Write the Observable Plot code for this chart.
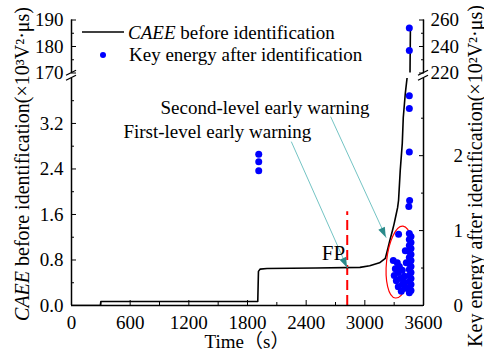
<!DOCTYPE html>
<html>
<head>
<meta charset="utf-8">
<script src="https://cdn.jsdelivr.net/npm/d3@7"></script>
<script src="https://cdn.jsdelivr.net/npm/@observablehq/plot@0.6"></script>
<style>
  body { margin: 0; background: #fff; }
  #chart { position: relative; width: 484px; height: 354px; overflow: hidden; background: #fff; }
  #chart svg { position: absolute; left: 0; top: 0; }
</style>
</head>
<body>
<div id="chart"></div>
<script>
// CAEE before identification (×10³ V²·μs) against time (s)
const caeeTime  = [0, 295, 300, 1905, 1912, 1930, 2000, 2500, 2950, 3050, 3150, 3210, 3235, 3255, 3280, 3300, 3320, 3335, 3345, 3362, 3383, 3393, 3414, 3432, 3462, 3466];
const caeeValue = [0, 0, 0.07, 0.07, 0.60, 0.64, 0.65, 0.66, 0.67, 0.70, 0.75, 0.83, 1.00, 1.14, 1.30, 1.44, 1.60, 1.72, 1.85, 2.37, 2.85, 3.30, 3.73, 4.0, 170, 186];

// Key energy after identification (×10² V²·μs)
const keyTime   = [1915, 1915, 1915,
                   3455, 3455, 3455, 3458, 3450, 3345,
                   3455, 3455,
                   3291, 3332, 3312, 3353, 3301, 3342, 3383, 3322, 3363, 3403, 3342, 3383, 3414, 3373, 3403, 3424, 3414,
                   3455, 3455, 3455, 3455, 3455, 3455, 3455, 3455, 3455, 3455, 3455,
                   3472, 3472, 3472, 3472, 3472, 3472, 3472, 3472, 3472, 3472];
const keyEnergy = [2.02, 1.92, 1.80,
                   2.80, 2.63, 2.05, 1.40, 1.32, 0.95,
                   254, 237,
                   0.60, 0.57, 0.49, 0.52, 0.40, 0.44, 0.47, 0.33, 0.36, 0.39, 0.25, 0.28, 0.23, 0.19, 0.31, 0.57, 0.73,
                   0.96, 0.88, 0.80, 0.72, 0.64, 0.56, 0.48, 0.40, 0.32, 0.24, 0.17,
                   0.92, 0.84, 0.76, 0.68, 0.60, 0.52, 0.44, 0.36, 0.28, 0.20];

// Axis ticks (broken y axes: lower and upper segments)
const timeTicks      = [0, 600, 1200, 1800, 2400, 3000, 3600];
const timeMinor      = [300, 900, 1500, 2100, 2700, 3300];
const caeeLowDomain  = [0, 3.99];
const caeeLowTicks   = [0, 0.8, 1.6, 2.4, 3.2];
const caeeLowMinor   = [0.4, 1.2, 2.0, 2.8, 3.6];
const caeeHighDomain = [170, 190];
const caeeHighTicks  = [170, 180, 190];
const caeeHighMinor  = [175, 185];
const keyLowDomain   = [0, 3.03];
const keyLowTicks    = [0, 1, 2];
const keyLowMinor    = [0.5, 1.5, 2.5];
const keyHighDomain  = [220, 260];
const keyHighTicks   = [220, 240, 260];
const keyHighMinor   = [230, 250];

// Annotations (time, CAEE)
const noteText  = ["Second-level early warning", "First-level early warning"];
const noteTime  = [910, 531];
const noteValue = [3.48, 3.06];
const fpTime = 2820, fpTop = 1.65;
const fpLabel = [{text: "FP", t: 2560, v: 0.91}];
const arrowFromTime  = [2650, 2248];
const arrowFromValue = [3.32, 2.88];
const arrowToTime    = [3219, 2822];
const arrowToValue   = [1.19, 0.66];
const ellipseTime  = [3219, 3495];
const ellipseValue = [0.12, 1.39];

const caee = caeeTime.map((t, i) => ({t, v: caeeValue[i]}));
const key = keyTime.map((t, i) => ({t, e: keyEnergy[i]}));
const notes = noteText.map((text, i) => ({text, t: noteTime[i], v: noteValue[i]}));
const arrows = arrowFromTime.map((t1, i) => ({t1, v1: arrowFromValue[i], t2: arrowToTime[i], v2: arrowToValue[i]}));

const W = 484, H = 354, ML = 71, MR = 61;
const lowTop = 78, lowBottom = 49;       // lower segment: y 78 → 305
const highTop = 19.5, highBottom = 281.5; // upper segment: y 19.5 → 72.5
const font = '"Liberation Serif", "Times New Roman", serif';
const plain = d => String(d);

const base = (top, bottom) => ({
  width: W, height: H, marginLeft: ML, marginRight: MR, marginTop: top, marginBottom: bottom,
  style: {background: "none", fontFamily: font, fontSize: "19px", color: "#000", overflow: "visible"}
});

// axis-break marks "//" drawn across an axis line at the gap between segments
const breakMark = side => (index, scales, values, dims) => {
  const x = side === "left" ? dims.marginLeft : dims.width - dims.marginRight;
  const yc = (lowTop + (H - highBottom)) / 2;
  const g = d3.create("svg:g").attr("stroke", "#000").attr("stroke-width", 1.3).attr("fill", "none");
  g.append("path").attr("d", `M${x - 5},${yc + 5}L${x + 5},${yc}`);
  g.append("path").attr("d", `M${x - 5},${yc}L${x + 5},${yc - 5}`);
  return g.node();
};

// filled arrowheads at the end of the warning arrows
const arrowHeads = (index, {x, y}) => {
  const g = d3.create("svg:g").attr("fill", "#2a8a8a");
  for (const a of arrows) {
    const x1 = x(a.t1), y1 = y(a.v1), x2 = x(a.t2), y2 = y(a.v2);
    const deg = Math.atan2(y2 - y1, x2 - x1) * 180 / Math.PI;
    g.append("path").attr("d", "M0,0L-10,-3.6L-10,3.6Z")
      .attr("transform", `translate(${x2},${y2}) rotate(${deg})`);
  }
  return g.node();
};

// red ellipse around the dense cluster
const ellipseMark = (index, {x, y}) => {
  const cx = (x(ellipseTime[0]) + x(ellipseTime[1])) / 2;
  const cy = (y(ellipseValue[0]) + y(ellipseValue[1])) / 2;
  const rx = Math.abs(x(ellipseTime[1]) - x(ellipseTime[0])) / 2 * 0.94;
  const ry = Math.abs(y(ellipseValue[0]) - y(ellipseValue[1])) / 2;
  return d3.create("svg:ellipse")
    .attr("cx", cx).attr("cy", cy).attr("rx", rx).attr("ry", ry)
    .attr("transform", `rotate(6 ${cx} ${cy})`)
    .attr("fill", "none").attr("stroke", "#ff0000").attr("stroke-width", 1.2).node();
};

const lowerLeft = Plot.plot({
  ...base(lowTop, lowBottom),
  x: {domain: [0, 3600]},
  y: {domain: caeeLowDomain},
  marks: [
    Plot.ruleX([fpTime], {y1: 0, y2: fpTop, stroke: "#ff0000", strokeWidth: 2, strokeDasharray: "10,5"}),
    Plot.line(caee, {x: "t", y: "v", stroke: "#000", strokeWidth: 1.6, clip: true}),
    Plot.link(arrows, {x1: "t1", y1: "v1", x2: "t2", y2: "v2", stroke: "#74c4c4", strokeWidth: 1}),
    arrowHeads,
    ellipseMark,
    Plot.text(notes, {x: "t", y: "v", text: "text", textAnchor: "start", fontSize: 19, fill: "#000"}),
    Plot.text(fpLabel, {x: "t", y: "v", text: "text", textAnchor: "start", fontSize: 21, fill: "#000"}),
    Plot.axisX(timeTicks, {tickSize: -5, tickPadding: 14.5, label: null, tickFormat: plain}),
    Plot.axisX(timeMinor, {tickSize: -3, tickPadding: 0, label: null, tickFormat: () => ""}),
    Plot.axisY(caeeLowTicks, {anchor: "left", tickSize: -5, tickPadding: 13, label: null, tickFormat: d3.format(".1f")}),
    Plot.axisY(caeeLowMinor, {anchor: "left", tickSize: -3, tickPadding: 0, label: null, tickFormat: () => ""}),
    Plot.ruleX([0], {stroke: "#000", strokeWidth: 1.5}),
    Plot.ruleY([0], {stroke: "#000", strokeWidth: 1.5}),
    breakMark("left")
  ]
});

const lowerRight = Plot.plot({
  ...base(lowTop, lowBottom),
  x: {domain: [0, 3600], axis: null},
  y: {domain: keyLowDomain},
  marks: [
    Plot.axisY(keyLowTicks, {anchor: "right", tickSize: -5, tickPadding: 35, label: null, tickFormat: plain}),
    Plot.axisY(keyLowMinor, {anchor: "right", tickSize: -3, tickPadding: 0, label: null, tickFormat: () => ""}),
    Plot.ruleX([3600], {stroke: "#000", strokeWidth: 1.5}),
    Plot.dot(key, {x: "t", y: "e", r: 3.5, fill: "#0000ff", clip: true}),
    breakMark("right")
  ]
});

const upperLeft = Plot.plot({
  ...base(highTop, highBottom),
  x: {domain: [0, 3600], axis: null},
  y: {domain: caeeHighDomain},
  marks: [
    Plot.line(caee, {x: "t", y: "v", stroke: "#000", strokeWidth: 1.6, clip: true}),
    Plot.axisY(caeeHighTicks, {anchor: "left", tickSize: -5, tickPadding: 13, label: null, tickFormat: plain}),
    Plot.axisY(caeeHighMinor, {anchor: "left", tickSize: -3, tickPadding: 0, label: null, tickFormat: () => ""}),
    Plot.ruleX([0], {stroke: "#000", strokeWidth: 1.5})
  ]
});

const upperRight = Plot.plot({
  ...base(highTop, highBottom),
  x: {domain: [0, 3600], axis: null},
  y: {domain: keyHighDomain},
  marks: [
    Plot.axisY(keyHighTicks, {anchor: "right", tickSize: -5, tickPadding: 12, label: null, tickFormat: plain}),
    Plot.axisY(keyHighMinor, {anchor: "right", tickSize: -3, tickPadding: 0, label: null, tickFormat: () => ""}),
    Plot.ruleX([3600], {stroke: "#000", strokeWidth: 1.5}),
    Plot.dot(key, {x: "t", y: "e", r: 3.5, fill: "#0000ff", clip: true})
  ]
});

const chart = document.getElementById("chart");
for (const svg of [lowerLeft, lowerRight, upperLeft, upperRight]) chart.append(svg);

// legend and axis titles
const ov = d3.select(chart).append("svg")
  .attr("width", W).attr("height", H)
  .style("font-family", font).style("pointer-events", "none");

ov.append("line").attr("x1", 82).attr("x2", 124).attr("y1", 32).attr("y2", 32)
  .attr("stroke", "#000").attr("stroke-width", 1.6);
const l1 = ov.append("text").attr("x", 128).attr("y", 38.5).attr("font-size", 19);
l1.append("tspan").attr("font-style", "italic").text("CAEE");
l1.append("tspan").text(" before identification");
ov.append("circle").attr("cx", 103).attr("cy", 55).attr("r", 3).attr("fill", "#0000ff");
ov.append("text").attr("x", 129).attr("y", 61).attr("font-size", 19).text("Key energy after identification");

const yl = ov.append("text").attr("transform", "translate(29,164) rotate(-90)")
  .attr("text-anchor", "middle").attr("font-size", 20);
yl.append("tspan").attr("font-style", "italic").text("CAEE");
yl.append("tspan").text(" before identification(×10³V²·μs)");

ov.append("text").attr("transform", "translate(481.5,176) rotate(-90)")
  .attr("text-anchor", "middle").attr("font-size", 20)
  .text("Key energy after identification(×10²V²·μs)");

ov.append("text").attr("x", 247).attr("y", 348).attr("text-anchor", "middle")
  .attr("font-size", 19).style("font-family", '"Liberation Serif", "Noto Sans CJK SC", serif')
  .text("Time（s）");
</script>
</body>
</html>
